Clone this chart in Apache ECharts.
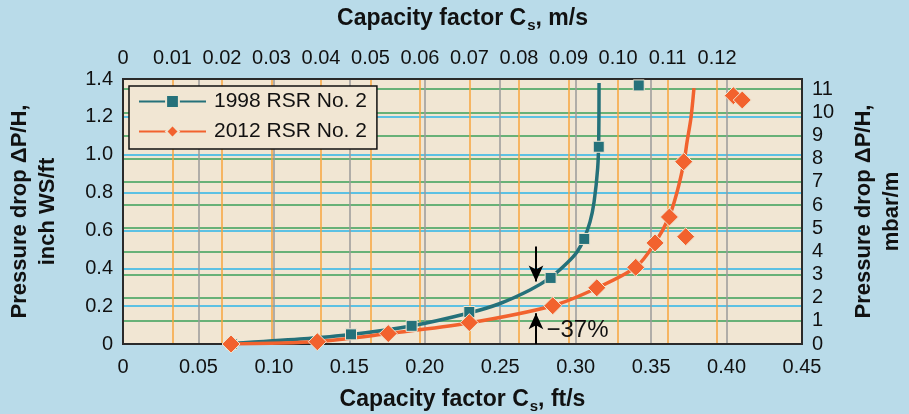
<!DOCTYPE html>
<html>
<head>
<meta charset="utf-8">
<script src="https://cdn.jsdelivr.net/npm/echarts@6/dist/echarts.min.js"></script>
<style>
  html, body { margin: 0; padding: 0; background: #b9dbe9; }
  #chart { width: 909px; height: 414px; }
</style>
</head>
<body>
<div id="chart"></div>
<script>
// Unit conversions between the paired axes
var FT_TO_M = 0.3048;
var INWS_FT_TO_MBAR_M = 8.1722;

// Axis ranges / tick labels
var xMaxFt = 0.45;
var yMaxIn = 1.4;
var topTicks = [0, 0.01, 0.02, 0.03, 0.04, 0.05, 0.06, 0.07, 0.08, 0.09, 0.10, 0.11, 0.12];
var rightTicks = [0, 1, 2, 3, 4, 5, 6, 7, 8, 9, 10, 11];

// 1998 RSR No. 2 : measured points [Cs ft/s, dP/H inch WS/ft]
var pts1998 = [
    [0.072, 0.0], [0.1511, 0.051], [0.1913, 0.096], [0.2295, 0.169],
    [0.2834, 0.349], [0.3057, 0.555], [0.3153, 1.042], [0.3418, 1.366]
];
// fitted curve
var curve1998 = [
    [0.072, 0.003], [0.1173, 0.026], [0.1511, 0.050], [0.1909, 0.095],
    [0.2293, 0.164], [0.2499, 0.214], [0.2697, 0.285], [0.2830, 0.349],
    [0.2943, 0.428], [0.3009, 0.486], [0.3055, 0.555], [0.3095, 0.645],
    [0.3122, 0.750], [0.3146, 0.930], [0.3153, 1.088], [0.3155, 1.379]
];

// 2012 RSR No. 2
var pts2012 = [
    [0.0716, 0.0], [0.1288, 0.012], [0.1758, 0.055], [0.2295, 0.113],
    [0.2848, 0.202], [0.3140, 0.297], [0.3398, 0.405], [0.3526, 0.534],
    [0.3621, 0.671], [0.3729, 0.567], [0.3716, 0.963], [0.4045, 1.312],
    [0.4104, 1.289]
];
var curve2012 = [
    [0.0716, 0.0], [0.1286, 0.013], [0.1756, 0.055], [0.2293, 0.111],
    [0.2848, 0.202], [0.3141, 0.296], [0.3400, 0.407], [0.3526, 0.534],
    [0.3619, 0.671], [0.3672, 0.803], [0.3718, 0.962], [0.3738, 1.067],
    [0.3764, 1.194], [0.3784, 1.352]
];

// -37% annotation
var arrowX = 0.2737;
var arrowDown = [0.515, 0.330];
var arrowUp = [0.0, 0.162];
var noteAt = [0.2803, 0.074];

var TEAL = "#25717a";
var ORANGE = "#f2622e";
var FONT = "Liberation Sans, Arial, sans-serif";

function axisLine() {
    return { show: true, onZero: false, lineStyle: { color: "#2a2a2a", width: 2 } };
}

var myChart = echarts.init(document.getElementById("chart"), null, { width: 909, height: 414 });

var nameRich = {
    b: { fontSize: 23, fontWeight: "bold", color: "#111", fontFamily: FONT, lineHeight: 26, verticalAlign: "middle" },
    s: { fontSize: 15, fontWeight: "bold", color: "#111", fontFamily: FONT, lineHeight: 28, verticalAlign: "bottom", padding: [0, 0, 0, 1] }
};

var option = {
    backgroundColor: "#b9dbe9",
    animation: false,
    textStyle: { fontFamily: FONT },
    grid: {
        left: 123, right: 107, top: 79, bottom: 70,
        outerBoundsMode: "none",
        show: true, backgroundColor: "#f1e6d3",
        borderWidth: 2, borderColor: "#2a2a2a"
    },
    legend: {
        orient: "vertical",
        left: 129, top: 86,
        padding: [5, 10, 7, 9],
        itemGap: 9,
        itemWidth: 67,
        itemHeight: 16,
        backgroundColor: "#f1e6d3",
        borderColor: "#111",
        borderWidth: 1.5,
        borderRadius: 0,
        data: ["1998 RSR No. 2", "2012 RSR No. 2"],
        textStyle: { fontSize: 21, color: "#111", fontFamily: FONT, padding: [0, 0, 0, 3] }
    },
    xAxis: [
        {
            type: "value", position: "bottom", min: 0, max: xMaxFt, interval: 0.05,
            name: "{b|Capacity factor C}{s|s}{b|, ft/s}",
            nameLocation: "middle", nameGap: 42,
            nameTextStyle: { rich: nameRich },
            axisLine: axisLine(),
            axisTick: { show: false },
            axisLabel: {
                fontSize: 20, color: "#111", margin: 13,
                formatter: function (v) { return v === 0 ? "0" : v.toFixed(2); }
            },
            splitLine: { show: true, showMinLine: false, showMaxLine: false, lineStyle: { color: "#9a9a9a", width: 1.5 } }
        },
        {
            type: "value", position: "top", min: 0, max: xMaxFt * FT_TO_M, interval: 0.01,
            name: "{b|Capacity factor C}{s|s}{b|, m/s}",
            nameLocation: "middle", nameGap: 46,
            nameTextStyle: { rich: nameRich },
            axisLine: axisLine(),
            axisTick: { show: false, customValues: topTicks },
            axisLabel: {
                fontSize: 20, color: "#111", margin: 11, customValues: topTicks,
                formatter: function (v) { return v === 0 ? "0" : v.toFixed(2); }
            },
            splitLine: { show: true, showMinLine: false, showMaxLine: true, lineStyle: { color: "#f7a53c", width: 1.5 } }
        }
    ],
    yAxis: [
        {
            type: "value", position: "left", min: 0, max: yMaxIn, interval: 0.2,
            name: "Pressure drop \u0394P/H,\ninch WS/ft",
            nameLocation: "middle", nameGap: 61, nameRotate: 90,
            nameTextStyle: { fontSize: 22, fontWeight: "bold", color: "#111", lineHeight: 28 },
            axisLine: axisLine(),
            axisTick: { show: false },
            axisLabel: {
                fontSize: 20, color: "#111", margin: 10,
                formatter: function (v) { return v === 0 ? "0" : v.toFixed(1); }
            },
            splitLine: { show: true, showMinLine: false, showMaxLine: false, lineStyle: { color: "#2bb5e8", width: 1.5 } }
        },
        {
            type: "value", position: "right", min: 0, max: yMaxIn * INWS_FT_TO_MBAR_M, interval: 1,
            name: "Pressure drop \u0394P/H,\nmbar/m",
            nameLocation: "middle", nameGap: 48, nameRotate: 90,
            nameTextStyle: { fontSize: 22, fontWeight: "bold", color: "#111", lineHeight: 28 },
            axisLine: axisLine(),
            axisTick: { show: false, customValues: rightTicks },
            axisLabel: { fontSize: 20, color: "#111", margin: 10, customValues: rightTicks },
            splitLine: { show: true, showMinLine: false, showMaxLine: true, lineStyle: { color: "#3a9f58", width: 1.5 } }
        }
    ],
    series: [
        {
            name: "1998 RSR No. 2", type: "line", data: curve1998,
            xAxisIndex: 0, yAxisIndex: 0,
            smooth: 0.3,
            symbol: "rect", showSymbol: false, z: 3,
            lineStyle: { color: TEAL, width: 3.5 },
            itemStyle: { color: TEAL, borderColor: "#efe6d2", borderWidth: 1 }
        },
        {
            name: "2012 RSR No. 2", type: "line", data: curve2012,
            xAxisIndex: 0, yAxisIndex: 0,
            smooth: 0.3,
            symbol: "diamond", showSymbol: false, z: 4,
            lineStyle: { color: ORANGE, width: 3.5 },
            itemStyle: { color: ORANGE, borderColor: "#efe6d2", borderWidth: 1 }
        },
        {
            name: "pts1998", type: "scatter", data: pts1998,
            xAxisIndex: 0, yAxisIndex: 0,
            symbol: "rect", symbolSize: 11, z: 5,
            itemStyle: { color: TEAL, borderColor: "#efe6d2", borderWidth: 1, opacity: 1 }
        },
        {
            name: "pts2012", type: "scatter", data: pts2012,
            xAxisIndex: 0, yAxisIndex: 0,
            symbol: "diamond", symbolSize: 18, z: 6,
            itemStyle: { color: ORANGE, borderColor: "#efe6d2", borderWidth: 1, opacity: 1 },
            markLine: {
                silent: true, symbol: ["none", "arrow"], symbolSize: [11, 16],
                label: { show: false },
                lineStyle: { color: "#000", width: 2, type: "solid" },
                data: [
                    [{ coord: [arrowX, arrowDown[0]] }, { coord: [arrowX, arrowDown[1]] }],
                    [{ coord: [arrowX, arrowUp[0]] }, { coord: [arrowX, arrowUp[1]] }]
                ]
            },
            markPoint: {
                silent: true, symbol: "circle", symbolSize: 1,
                itemStyle: { color: "rgba(0,0,0,0)" },
                label: { show: true, position: "right", distance: 0, formatter: "\u221237%", fontSize: 24, color: "#111" },
                data: [{ coord: noteAt }]
            }
        }
    ]
};

myChart.setOption(option);
</script>
</body>
</html>
